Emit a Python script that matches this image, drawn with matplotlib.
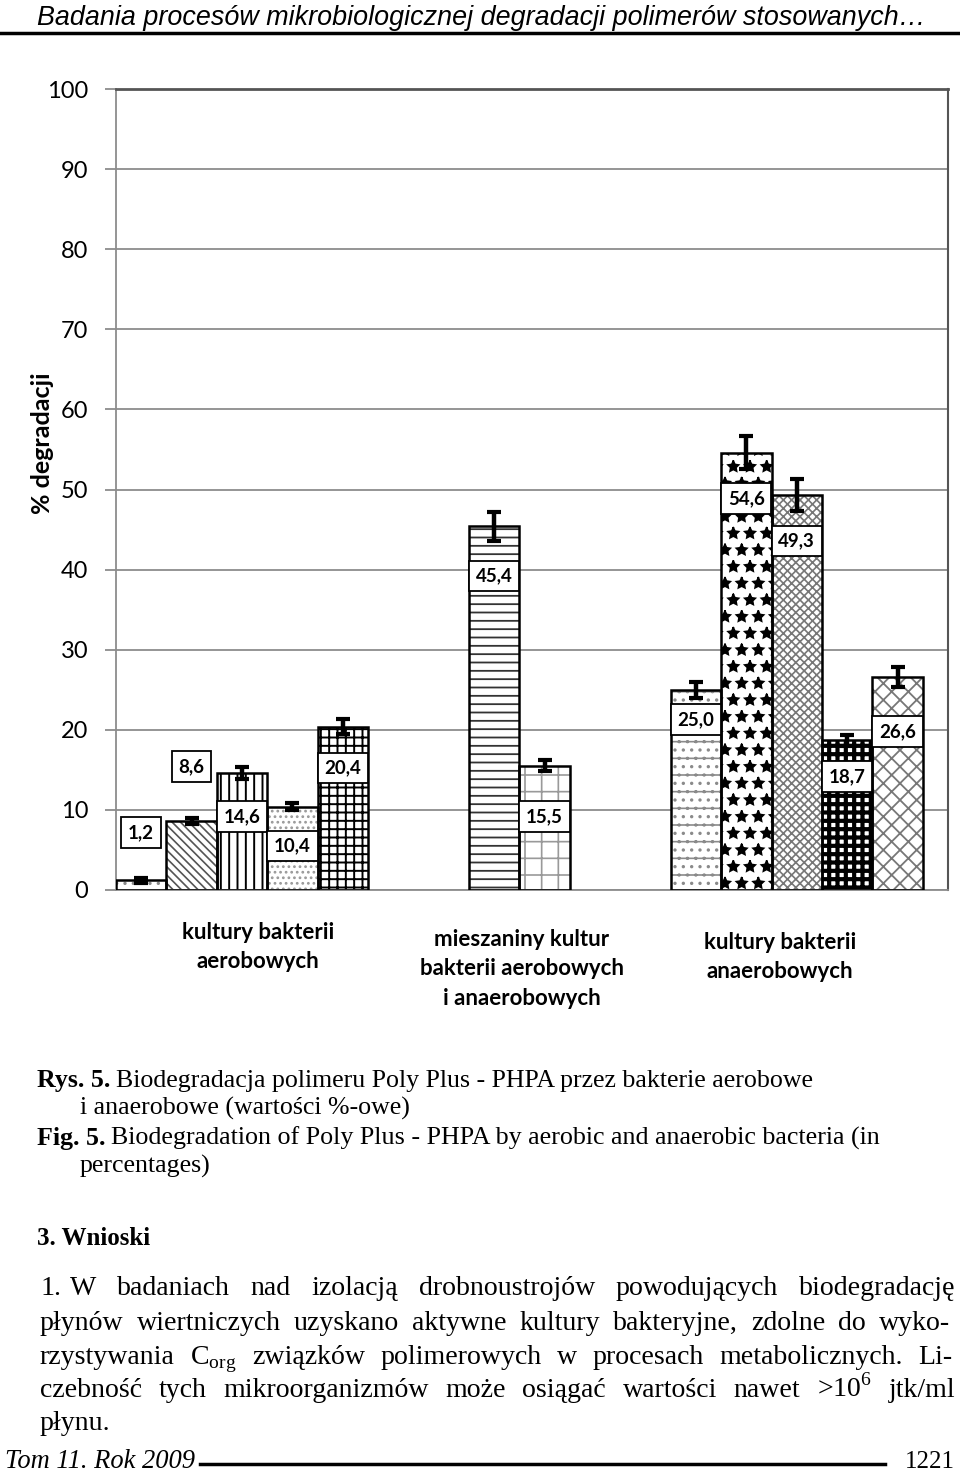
import matplotlib
matplotlib.use("Agg")
import matplotlib.pyplot as plt
import numpy as np
from matplotlib.lines import Line2D

# --- data ---
categories = ["kultury bakterii\naerobowych",
              "mieszaniny kultur\nbakterii aerobowych\ni anaerobowych",
              "kultury bakterii\nanaerobowych"]
aerobic = [1.2, 8.6, 14.6, 10.4, 20.4]
aerobic_err = [0.3, 0.4, 0.7, 0.4, 0.9]
mixed = [45.4, 15.5]
mixed_err = [1.8, 0.7]
anaerobic = [25.0, 54.6, 49.3, 18.7, 26.6]
anaerobic_err = [1.0, 2.1, 2.0, 0.7, 1.2]
yticks = list(range(0, 101, 10))

W, H = 960, 1476
SANS = ["Lato", "DejaVu Sans"]
NARROW = ["Liberation Sans Narrow", "Liberation Sans", "DejaVu Sans"]
SERIF = ["Liberation Serif", "DejaVu Serif"]

plt.rcParams["mathtext.fontset"] = "custom"
plt.rcParams["mathtext.rm"] = "Liberation Serif"
plt.rcParams["hatch.linewidth"] = 1.2


def fx(x):
    return x / W


def fy(y):
    return 1 - y / H


fig = plt.figure(figsize=(W / 100, H / 100), dpi=100)
renderer = fig.canvas.get_renderer()


def width_of(t):
    return t.get_window_extent(renderer).width


def fit_text(x, y, s, x_end, size=18, **kw):
    t = fig.text(fx(x), fy(y), s, fontsize=size, ha="left", va="baseline", **kw)
    t.set_fontsize(size * (x_end - x) / width_of(t))
    return t


def caption_line(y, bold, rest, x_end, x0=37):
    tb = fig.text(fx(x0), fy(y), bold, fontweight="bold", family=SERIF,
                  ha="left", va="baseline")
    tr = fig.text(fx(x0), fy(y), rest, family=SERIF, ha="left", va="baseline")
    size = 18.0
    for _ in range(4):
        tb.set_fontsize(size)
        tr.set_fontsize(size)
        xr = x0 + width_of(tb) + 0.3 * size
        tr.set_x(fx(xr))
        size *= (x_end - x0) / (xr - x0 + width_of(tr))
    return size


def justify(words, y, x0, x1, size, **kw):
    ts = [fig.text(fx(x0), fy(y), w, fontsize=size, ha="left", va="baseline", **kw)
          for w in words]
    widths = [width_of(t) for t in ts]
    gap = (x1 - x0 - sum(widths)) / max(len(ts) - 1, 1)
    x = x0
    for t, w in zip(ts, widths):
        t.set_x(fx(x))
        x += w + gap


# --- header ---
fit_text(37, 25, "Badania procesów mikrobiologicznej degradacji polimerów stosowanych…",
         922, style="italic", family=NARROW)
fig.add_artist(Line2D([0, 1], [fy(33), fy(33)], color="black", lw=2.5))

# --- chart ---
ax = fig.add_axes([fx(116), fy(890), (948 - 116) / W, (890 - 89) / H])

groups = [aerobic, mixed, anaerobic]
errs = [aerobic_err, mixed_err, anaerobic_err]
group_start = [0, 7, 11]
xs = np.concatenate([s + np.arange(len(g)) + 0.5 for s, g in zip(group_start, groups)])
vals = np.concatenate(groups)
err = np.concatenate(errs)

hatches = ["..", "\\\\\\\\", "||", "...", "++", "--", "+", "-..", "*", "xxxx", "++", "xx"]
hcolors = ["#888888", "#555555", "black", "#999999", "black", "#333333",
           "#999999", "#8a8a8a", "black", "#777777", "black", "#777777"]
hwidths = [1.2, 1.2, 1.4, 1.2, 1.4, 1.3, 1.2, 1.2, 1.2, 1.2, 3.0, 1.3]
label_off = [6.0, 6.8, -5.4, -4.9, -5.2, -6.2, -6.3, -3.7, -5.7, -5.7, -4.5, -6.8]

for x, v, h, c, hw in zip(xs, vals, hatches, hcolors, hwidths):
    with plt.rc_context({"hatch.linewidth": hw}):
        ax.bar(x, v, width=1, color="white", edgecolor=c, hatch=h, linewidth=0, zorder=2)
ax.bar(xs, vals, width=1, fill=False, edgecolor="black", linewidth=1.8, zorder=3)
ax.errorbar(xs, vals, yerr=err, fmt="none", ecolor="black", elinewidth=3.2,
            capsize=5, capthick=3, zorder=4)

for x, v, off in zip(xs, vals, label_off):
    ax.text(x, v + off, f"{v:.1f}".replace(".", ","), ha="center", va="center",
            fontsize=13.5, fontweight="bold", family=SANS, zorder=5,
            bbox=dict(boxstyle="square,pad=0.36", fc="white", ec="black", lw=1.3))

ax.set_xlim(0, 16.5)
ax.set_ylim(0, 100)
ax.set_yticks(yticks)
ax.set_xticks([])
ax.tick_params(axis="y", length=8, color="#8c8c8c", width=1.3, labelsize=17, pad=12)
for lab in ax.get_yticklabels():
    lab.set_family(SANS)
ax.yaxis.grid(True, color="#8c8c8c", lw=1.3)
ax.set_axisbelow(True)
for side, col, lw in [("left", "#8c8c8c", 1.3), ("bottom", "#8c8c8c", 1.3),
                      ("top", "#555555", 2.0), ("right", "#555555", 1.5)]:
    ax.spines[side].set_color(col)
    ax.spines[side].set_linewidth(lw)

fig.text(fx(42), fy(443), "% degradacji", rotation=90, ha="center", va="center",
         fontsize=18, fontweight="bold", family=SANS)

cat_pos = [(258, 922), (522, 929), (780, 932)]
for (cx, cy), cat in zip(cat_pos, categories):
    fig.text(fx(cx), fy(cy), cat, ha="center", va="top", fontsize=16,
             fontweight="bold", family=SANS, linespacing=1.5, color="black")

# --- caption ---
cap_size = caption_line(1087, "Rys. 5.",
                        "Biodegradacja polimeru Poly Plus - PHPA przez bakterie aerobowe", 813)
fig.text(fx(80), fy(1115), "i anaerobowe (wartości %-owe)", fontsize=cap_size,
         family=SERIF, ha="left", va="baseline")
caption_line(1145, "Fig. 5.",
             "Biodegradation of Poly Plus - PHPA by aerobic and anaerobic bacteria (in", 880)
fig.text(fx(80), fy(1173), "percentages)", fontsize=cap_size, family=SERIF,
         ha="left", va="baseline")

fit_text(37, 1245, "3. Wnioski", 150, fontweight="bold", family=SERIF)

# --- paragraph ---
lines = [
    "W badaniach nad izolacją drobnoustrojów powodujących biodegradację",
    "płynów wiertniczych uzyskano aktywne kultury bakteryjne, zdolne do wyko-",
    "rzystywania C$_{\\mathrm{org}}$ związków polimerowych w procesach metabolicznych. Li-",
    "czebność tych mikroorganizmów może osiągać wartości nawet >10$^{6}$ jtk/ml",
]
probe = fit_text(40, 1330, lines[1], 900, family=SERIF)
par_size = probe.get_fontsize()
probe.remove()
fig.text(fx(40), fy(1295), "1.", fontsize=par_size, family=SERIF, ha="left", va="baseline")
bases = [1295, 1330, 1364, 1397]
starts = [70, 40, 40, 40]
ends = [955, 950, 952, 955]
for s, y, x0, x1 in zip(lines, bases, starts, ends):
    justify(s.split(" "), y, x0, x1, par_size, family=SERIF)
fig.text(fx(40), fy(1430), "płynu.", fontsize=par_size, family=SERIF, ha="left", va="baseline")

# --- footer ---
fit_text(5, 1468, "Tom 11. Rok 2009", 195, style="italic", family=SERIF)
fig.add_artist(Line2D([fx(200), fx(885)], [fy(1464), fy(1464)], color="black", lw=2.5))
fit_text(905, 1468, "1221", 955, family=SERIF)

plt.savefig("out.png", dpi=100)
